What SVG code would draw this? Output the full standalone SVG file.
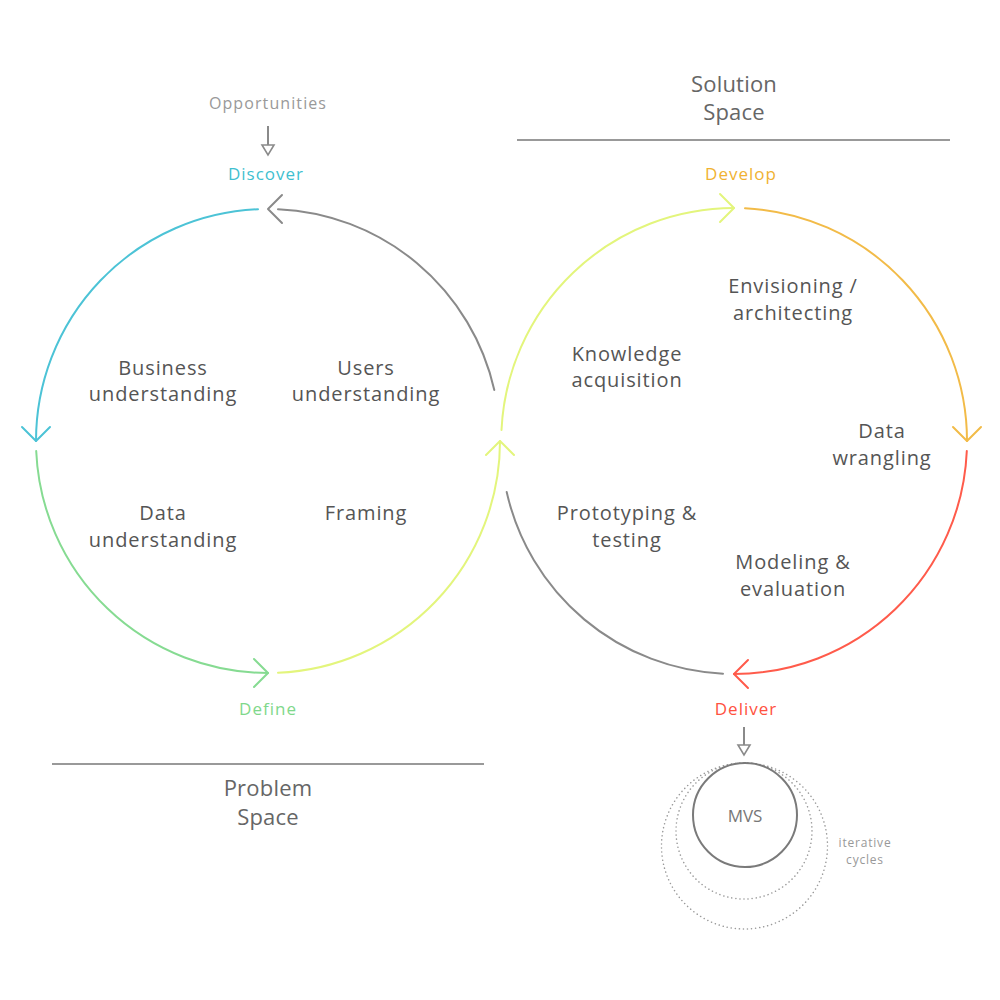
<svg xmlns="http://www.w3.org/2000/svg" width="1000" height="1000" viewBox="0 0 1000 1000">
<style>
text{font-family:"Open Sans","Noto Sans","DejaVu Sans",sans-serif;text-anchor:middle}
.lbl{font-size:20px;fill:#555;letter-spacing:0.9px}
.space{font-size:22px;fill:#666;letter-spacing:0.2px}
.phase{font-size:17px;letter-spacing:1px}
.arc{fill:none;stroke-width:2;stroke-linecap:round;stroke-linejoin:round}
.gray{stroke:#8a8a8a}
.cyan{stroke:#4cc3d6}
.green{stroke:#86db92}
.yel{stroke:#e3f57c}
.orange{stroke:#f2bb48}
.red{stroke:#ff5b4b}
.dot{fill:none;stroke:#9a9a9a;stroke-width:1.5;stroke-dasharray:0.1 4;stroke-linecap:round}
</style>
<rect width="1000" height="1000" fill="#fff"/>
<g id="connectors">
  <path class="arc cyan" d="M258 209.2 A232 232 0 0 0 36 441"/>
  <polyline class="arc cyan" points="22,427 36,441 50,427"/>
  <path class="arc green" d="M36.2 451 A232 232 0 0 0 268 673"/>
  <polyline class="arc green" points="254,659 268,673 254,687"/>
  <path class="arc yel" d="M278 672.8 A232 232 0 0 0 500 441"/>
  <polyline class="arc yel" points="486,455 500,441 514,455"/>
  <path class="arc yel" d="M501.5 430 A233 233 0 0 1 734 208"/>
  <polyline class="arc yel" points="720,194 734,208 720,222"/>
  <path class="arc orange" d="M745 208.3 A233 233 0 0 1 967 441"/>
  <polyline class="arc orange" points="953,427 967,441 981,427"/>
  <path class="arc red" d="M966.8 451 A233 233 0 0 1 734 674"/>
  <polyline class="arc red" points="748,660 734,674 748,688"/>
  <path class="arc gray" d="M723 673.7 A233 233 0 0 1 506.7 492"/>
  <path class="arc gray" d="M278 209.2 A232 232 0 0 1 494.3 390"/>
  <polyline class="arc gray" points="282,195 268,209 282,223"/>
  <line class="gray" x1="268" y1="126" x2="268" y2="146" stroke-width="2"/>
  <polygon points="262,145 274,145 268,155" fill="#fff" stroke="#8a8a8a" stroke-width="1.6"/>
  <line class="gray" x1="744" y1="727" x2="744" y2="746" stroke-width="2"/>
  <polygon points="738,745 750,745 744,755" fill="#fff" stroke="#8a8a8a" stroke-width="1.6"/>
</g>
<g id="spaces">
  <line x1="517" y1="140" x2="950" y2="140" stroke="#999" stroke-width="2"/>
  <text class="space" x="734" y="92">Solution</text>
  <text class="space" x="734" y="120">Space</text>
  <line x1="52" y1="764" x2="484" y2="764" stroke="#999" stroke-width="2"/>
  <text class="space" x="268" y="796">Problem</text>
  <text class="space" x="268" y="825">Space</text>
</g>
<g id="opportunities"><text x="268" y="109" font-size="16" fill="#999" letter-spacing="1.1">Opportunities</text></g>
<g id="discover"><text class="phase" x="266" y="180" fill="#3fbfd0">Discover</text></g>
<g id="define"><text class="phase" x="268" y="715" fill="#7fd88b">Define</text></g>
<g id="develop"><text class="phase" x="741" y="180" fill="#f0b232">Develop</text></g>
<g id="deliver"><text class="phase" x="746" y="715" fill="#ff5140">Deliver</text></g>
<g id="business"><text class="lbl" x="163" y="375">Business</text><text class="lbl" x="163" y="401">understanding</text></g>
<g id="users"><text class="lbl" x="366" y="375">Users</text><text class="lbl" x="366" y="401">understanding</text></g>
<g id="data-understanding"><text class="lbl" x="163" y="520">Data</text><text class="lbl" x="163" y="547">understanding</text></g>
<g id="framing"><text class="lbl" x="366" y="520">Framing</text></g>
<g id="knowledge"><text class="lbl" x="627" y="361">Knowledge</text><text class="lbl" x="627" y="387">acquisition</text></g>
<g id="envisioning"><text class="lbl" x="793" y="293">Envisioning /</text><text class="lbl" x="793" y="320">architecting</text></g>
<g id="wrangling"><text class="lbl" x="882" y="438">Data</text><text class="lbl" x="882" y="465">wrangling</text></g>
<g id="prototyping"><text class="lbl" x="627" y="520">Prototyping &amp;</text><text class="lbl" x="627" y="547">testing</text></g>
<g id="modeling"><text class="lbl" x="793" y="569">Modeling &amp;</text><text class="lbl" x="793" y="596">evaluation</text></g>
<g id="mvs">
  <circle class="dot" cx="744.5" cy="846" r="83"/>
  <circle class="dot" cx="744" cy="831" r="68"/>
  <circle cx="745" cy="815" r="52" fill="#fff" stroke="#7a7a7a" stroke-width="2"/>
  <text x="745" y="822" font-size="17" fill="#777">MVS</text>
</g>
<g id="iterative"><text x="865" y="847" font-size="12" fill="#999" letter-spacing="0.8">iterative</text><text x="865" y="864" font-size="12" fill="#999" letter-spacing="0.8">cycles</text></g>
</svg>
